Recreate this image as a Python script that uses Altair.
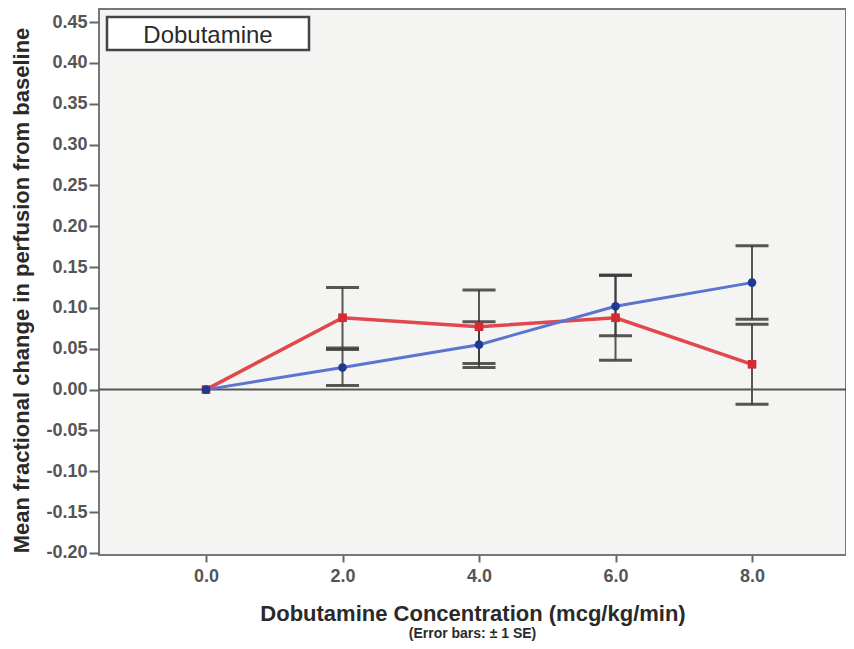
import altair as alt
import pandas as pd

conc = [0.0, 2.0, 4.0, 6.0, 8.0]
red_mean = [0.000, 0.088, 0.077, 0.088, 0.031]
red_lo = [None, 0.051, 0.032, 0.036, -0.018]
red_hi = [None, 0.125, 0.122, 0.140, 0.080]
blue_mean = [0.000, 0.027, 0.055, 0.102, 0.131]
blue_lo = [None, 0.005, 0.027, 0.066, 0.086]
blue_hi = [None, 0.049, 0.083, 0.140, 0.176]
y_ticks = [-0.20, -0.15, -0.10, -0.05, 0.00, 0.05, 0.10, 0.15, 0.20, 0.25, 0.30, 0.35, 0.40, 0.45]
x_ticks = [0.0, 2.0, 4.0, 6.0, 8.0]

rows = []
for i, c in enumerate(conc):
    rows.append({"conc": c, "series": "red", "mean": red_mean[i], "lo": red_lo[i], "hi": red_hi[i]})
for i, c in enumerate(conc):
    rows.append({"conc": c, "series": "blue", "mean": blue_mean[i], "lo": blue_lo[i], "hi": blue_hi[i]})
df = pd.DataFrame(rows)
err = df.dropna()

W, H = 747, 546
FONT = "Liberation Sans"

xs = alt.Scale(domain=[-1.568, 9.377], nice=False, zero=False)
ys = alt.Scale(domain=[-0.2025, 0.466], nice=False, zero=False)

xenc = alt.X("conc:Q", scale=xs,
             axis=alt.Axis(values=x_ticks, format=".1f", grid=False, domain=False,
                           tickSize=7, tickColor="#666", tickWidth=2,
                           labelFontSize=18, labelFontWeight="bold", labelColor="#555",
                           labelPadding=5, labelFont=FONT,
                           title="Dobutamine Concentration (mcg/kg/min)",
                           titleFontSize=22, titleFontWeight="bold", titleColor="#2a2a2a",
                           titleFont=FONT, titlePadding=18))
yenc = alt.Y("mean:Q", scale=ys,
             axis=alt.Axis(values=y_ticks, format=".2f", grid=False, domain=False,
                           labelExpr="replace(datum.label, '\u2212', '-')",
                           tickSize=10, tickColor="#666", tickWidth=2,
                           labelFontSize=18, labelFontWeight="bold", labelColor="#555",
                           labelPadding=2, labelFont=FONT,
                           title="Mean fractional change in perfusion from baseline",
                           titleFontSize=22, titleFontWeight="bold", titleColor="#2a2a2a",
                           titleFont=FONT, titlePadding=12, titleY=281))

base = alt.Chart(df)

zero = alt.Chart(pd.DataFrame({"z": [0.0]})).mark_rule(color="#555", strokeWidth=2).encode(
    y=alt.Y("z:Q", scale=ys))

bars = alt.Chart(err).mark_rule(color="#3a3a3a", strokeWidth=2, opacity=0.85).encode(
    x=alt.X("conc:Q", scale=xs), y=alt.Y("lo:Q", scale=ys), y2="hi:Q")
cap_lo = alt.Chart(err).mark_tick(color="#3a3a3a", orient="horizontal", size=33, thickness=3, opacity=0.85).encode(
    x=alt.X("conc:Q", scale=xs), y=alt.Y("lo:Q", scale=ys))
cap_hi = alt.Chart(err).mark_tick(color="#3a3a3a", orient="horizontal", size=33, thickness=3, opacity=0.85).encode(
    x=alt.X("conc:Q", scale=xs), y=alt.Y("hi:Q", scale=ys))

cscale_line = alt.Scale(domain=["red", "blue"], range=["#e2474c", "#5b74d0"])
cscale_pt = alt.Scale(domain=["red", "blue"], range=["#d62a32", "#1f3a8e"])
sscale = alt.Scale(domain=["red", "blue"], range=["square", "circle"])
wscale = alt.Scale(domain=["red", "blue"], range=[3.5, 3])

lines = base.mark_line().encode(
    x=xenc, y=yenc,
    color=alt.Color("series:N", scale=cscale_line, legend=None),
    strokeWidth=alt.StrokeWidth("series:N", scale=wscale, legend=None),
    order=alt.Order("conc:Q"))
pts = base.mark_point(filled=True, size=75, opacity=1).encode(
    x=alt.X("conc:Q", scale=xs), y=alt.Y("mean:Q", scale=ys),
    shape=alt.Shape("series:N", scale=sscale, legend=None),
    color=alt.Color("series:N", scale=cscale_pt, legend=None))

box = alt.Chart(pd.DataFrame({"t": ["Dobutamine"]})).mark_rect(
    fill="white", stroke="#444", strokeWidth=2.5).encode(
    x=alt.value(8), x2=alt.value(210), y=alt.value(8), y2=alt.value(41))
boxtext = alt.Chart(pd.DataFrame({"t": ["Dobutamine"]})).mark_text(
    fontSize=24, font=FONT, color="#2a2a2a", align="center", baseline="alphabetic").encode(
    x=alt.value(109), y=alt.value(34), text="t:N")

chart = alt.layer(bars, cap_lo, cap_hi, zero, lines, pts, box, boxtext).resolve_scale(
    color="independent"
).properties(
    width=W, height=H,
    title=alt.TitleParams("(Error bars: \u00b1 1 SE)", orient="bottom", anchor="middle",
                          fontSize=14, fontWeight="bold", color="#2a2a2a", font=FONT, offset=3),
    autosize=alt.AutoSizeParams(type="none"),
    padding={"left": 91, "top": 1, "right": 0, "bottom": 86},
    background="white",
).configure_view(fill="#f4f4f2", stroke="#777", strokeWidth=2)

chart.save("out.html", embed_options={"renderer": "svg", "actions": False})
